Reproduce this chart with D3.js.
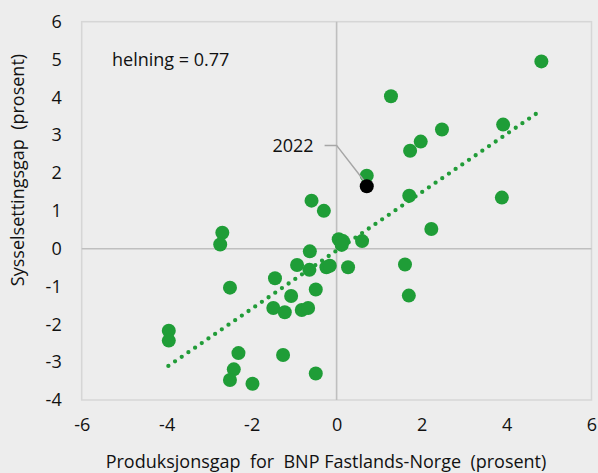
<!DOCTYPE html>
<html>
<head>
<meta charset="utf-8">
<script src="https://cdn.jsdelivr.net/npm/d3@7"></script>
<style>
  html, body { margin: 0; padding: 0; background: #ededed; }
  svg text { font-family: "Open Sans", "Noto Sans", sans-serif; fill: #111; }
</style>
</head>
<body>
<div id="chart"></div>
<script>
const width = 598;
const height = 473;

// punkter (produksjonsgap, sysselsettingsgap)
const gapX = [4.82, 1.28, 3.92, 2.48, 1.98, 1.73, 0.71, 1.71, 3.89, -0.59, -0.3, 2.23, -2.69, -2.74,
  0.05, 0.15, 0.12, 0.6, -0.63, -0.93, -0.64, -0.24, -0.16, 0.27, -1.45, -0.49, -1.07, -1.49, -1.22,
  -0.82, -0.67, -2.51, 1.61, 1.7, -3.95, -3.95, -2.31, -2.42, -2.51, -1.98, -1.26, -0.49];
const gapY = [4.95, 4.03, 3.28, 3.15, 2.83, 2.59, 1.93, 1.40, 1.35, 1.27, 1.0, 0.52, 0.42, 0.11,
  0.25, 0.2, 0.1, 0.2, -0.07, -0.43, -0.56, -0.49, -0.45, -0.49, -0.78, -1.08, -1.25, -1.57, -1.68,
  -1.62, -1.57, -1.03, -0.42, -1.24, -2.17, -2.43, -2.76, -3.19, -3.47, -3.57, -2.81, -3.30];

const punkt2022 = { x: 0.71, y: 1.65, label: "2022" };

// trendlinje (helning 0.77)
const trendX = [-3.96, 4.74];
const trendY = [-3.1, 3.6];

const xTicks = [-6, -4, -2, 0, 2, 4, 6];
const yTicks = [-4, -3, -2, -1, 0, 1, 2, 3, 4, 5, 6];

const margin = { left: 81.7, top: 21.7, right: 598 - 591.5, bottom: 473 - 400 };

const x = d3.scaleLinear().domain([-6, 6]).range([margin.left, width - margin.right]);
const y = d3.scaleLinear().domain([-4, 6]).range([height - margin.bottom, margin.top]);

const svg = d3.select("#chart").append("svg")
  .attr("width", width)
  .attr("height", height);

// ramme
svg.append("rect")
  .attr("x", x(-6)).attr("y", y(6))
  .attr("width", x(6) - x(-6)).attr("height", y(-4) - y(6))
  .attr("fill", "none").attr("stroke", "#d6d6d6").attr("stroke-width", 1.5);

// nullinjer
svg.append("line")
  .attr("x1", x(-6)).attr("x2", x(6)).attr("y1", y(0)).attr("y2", y(0))
  .attr("stroke", "#bfbfbf").attr("stroke-width", 1.6);
svg.append("line")
  .attr("x1", x(0)).attr("x2", x(0)).attr("y1", y(-4)).attr("y2", y(6))
  .attr("stroke", "#bfbfbf").attr("stroke-width", 1.6);

// akser (bare tekst), bindestrek som minus
const fmt = d => String(d);

const xAxis = svg.append("g")
  .attr("transform", `translate(0, ${y(-4)})`)
  .call(d3.axisBottom(x).tickValues(xTicks).tickSize(0).tickPadding(18).tickFormat(fmt));
xAxis.select(".domain").remove();
xAxis.selectAll("text").style("font-size", "18px").attr("font-family", null).attr("fill", null);

const yAxis = svg.append("g")
  .attr("transform", `translate(${x(-6)}, 0)`)
  .call(d3.axisLeft(y).tickValues(yTicks).tickSize(0).tickPadding(20).tickFormat(fmt));
yAxis.select(".domain").remove();
yAxis.selectAll("text").style("font-size", "18px").attr("font-family", null).attr("fill", null);

// aksetitler
svg.append("text")
  .attr("x", 326).attr("y", 468)
  .attr("text-anchor", "middle")
  .style("font-size", "18px")
  .style("white-space", "pre")
  .text("Produksjonsgap  for  BNP Fastlands-Norge  (prosent)");

svg.append("text")
  .attr("transform", `translate(24, ${170}) rotate(-90)`)
  .attr("text-anchor", "middle")
  .style("font-size", "18px")
  .style("white-space", "pre")
  .text("Sysselsettingsgap  (prosent)");

// trendlinje
svg.append("line")
  .attr("x1", x(trendX[0])).attr("y1", y(trendY[0]))
  .attr("x2", x(trendX[1])).attr("y2", y(trendY[1]))
  .attr("stroke", "#219c38")
  .attr("stroke-width", 4.3)
  .attr("stroke-linecap", "round")
  .attr("stroke-dasharray", "0 8.1");

// punkter
const data = gapX.map((v, i) => ({ x: v, y: gapY[i] }));
svg.append("g")
  .selectAll("circle")
  .data(data)
  .join("circle")
  .attr("cx", d => x(d.x))
  .attr("cy", d => y(d.y))
  .attr("r", 7)
  .attr("fill", "#1f9d37");

// 2022
svg.append("polyline")
  .attr("points", `${x(0) - 12},${y(2.73)} ${x(0)},${y(2.73)} ${x(punkt2022.x)},${y(punkt2022.y) - 2}`)
  .attr("fill", "none")
  .attr("stroke", "#a6a6a6")
  .attr("stroke-width", 1.5);

svg.append("circle")
  .attr("cx", x(punkt2022.x))
  .attr("cy", y(punkt2022.y))
  .attr("r", 7)
  .attr("fill", "#000");

svg.append("text")
  .attr("x", x(0) - 23).attr("y", y(2.73) + 7)
  .attr("text-anchor", "end")
  .style("font-size", "18px")
  .text(punkt2022.label);

svg.append("text")
  .attr("x", 112).attr("y", 66)
  .style("font-size", "18px")
  .text("helning = 0.77");
</script>
</body>
</html>
